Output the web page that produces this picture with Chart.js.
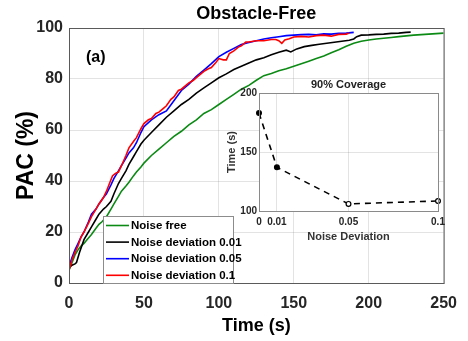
<!DOCTYPE html>
<html><head><meta charset="utf-8">
<script src="https://cdn.jsdelivr.net/npm/chart.js@4.4.0/dist/chart.umd.min.js"></script>
<style>
html,body{margin:0;padding:0;background:#fff;}
#wrap{position:relative;width:468px;height:341px;overflow:hidden;}
#main{position:absolute;left:0;top:0;width:468px;height:341px;}
#inset{position:absolute;left:222px;top:74px;width:230px;height:175px;}
</style></head><body>
<div id="wrap"><canvas id="main" width="468" height="341"></canvas><canvas id="inset" width="230" height="175"></canvas></div>
<script>
// ---------- data ----------
const chartTitle = 'Obstacle-Free';
const seriesLabels = ['Noise free', 'Noise deviation 0.01', 'Noise deviation 0.05', 'Noise deviation 0.1'];

const greenT = [0,2,4,6,8,10,12,15,18,20,22,25,28,30,33,35,38,40,43,45,48,50,55,60,65,70,75,80,85,90,95,100,105,110,115,120,125,130,135,140,145,150,155,160,165,170,175,180,185,190,195,200,205,210,215,220,225,230,235,240,245,250];
const greenV = [5,8,11,13,14.5,15.5,17,19,21.5,23,24,26,29,31,34,36,38,39.5,42,43.5,45.5,47,50,52.5,55,57.5,59.5,62,64,66.5,68,70,72,74,76,77.5,79.5,81.3,82.2,83.2,84,85,86,87,88,89,90.3,91.5,92.8,94,94.8,95.3,95.7,96,96.3,96.6,96.9,97.2,97.4,97.6,97.8,98];

const blackT = [0,2,4,5,7,10,13,15,18,20,23,25,28,30,33,35,38,40,43,45,48,50,55,60,65,70,75,80,85,90,95,100,105,110,115,120,125,130,135,140,145,148,152,157,162,167,172,177,182,187,190,192,195,200,205,210,215,220,225,228];
const blackV = [6,7,7.5,8,12,17,20,22,25,27,29,30,32,35,39,41,44,46.5,49.5,51.5,54.5,56,59,62,65,67.5,70,72,74.5,76.5,78.5,80.5,82,83.7,85,86.3,87.5,88.3,89.5,90.5,91.3,90.6,91.8,92.7,93.2,93.6,94,94.4,94.8,95.2,95.7,96.6,97.2,97.3,97.5,97.6,97.9,98,98.3,98.4];

const blueT = [0,2,4,6,8,10,13,15,18,20,23,25,28,30,33,35,38,40,43,45,48,50,55,60,65,70,75,80,85,90,95,100,105,110,115,120,125,130,135,140,145,150,155,160,165,170,175,180,185,190];
const blueV = [6.5,10,13,15.5,18,20,24,27,29,31,33.5,35,38.5,41,44,46,49,51,53,55,59,61.3,64,66,67.5,71.5,75.5,78,81,83.5,86,88.8,90.5,92,93.5,94.3,95,95.7,96.2,96.6,97,97.2,97.4,97.5,97.3,97.7,97.6,97.9,98,98.3];

const redT = [0,2,4,6,8,10,13,15,18,20,23,25,27,29,31,33,35,38,40,43,45,48,50,53,55,58,60,63,65,68,70,73,75,78,80,83,85,88,90,93,95,98,100,103,105,107,110,113,115,118,120,125,130,135,138,140,142,144,147,150,155,160,165,170,175,180,185,187];
const redV = [5,9,12,14.5,18,20,23.5,26,29,31,33.5,36,39,42,43,43.5,46,50,53,55.5,57,60.5,62.5,64,64.5,66.5,67,68.5,69.5,72,73,75.5,76,77.5,78.5,79.5,80.5,82,83,84,84.5,86.5,88,87.5,87.5,90,91,92.5,93,94.5,94.5,95,95,95.5,95.5,95,94,95.3,95.8,96.5,96.7,96.5,97,97.2,96.8,97.5,97.6,98];

const xTickStep = 50, yTickStep = 20;

const insetTitle = '90% Coverage';
const insetX = [0, 0.01, 0.05, 0.1];
const insetY = [183, 137, 106, 108.5];
const insetXTicks = [0, 0.01, 0.05, 0.1];
const insetXTickLabels = ['0', '0.01', '0.05', '0.1'];

// ---------- rendering ----------
const FONT = "'Liberation Sans', Arial, Helvetica, sans-serif";
const colors = ['#0b8a14', '#000000', '#0000ff', '#ff0000'];
const pairs = (t, v) => t.map((x, i) => ({x: x, y: v[i]}));
const allT = [greenT, blackT, blueT, redT];
const allV = [greenV, blackV, blueV, redV];

const mainDatasets = seriesLabels.map((lab, i) => ({
  label: lab,
  data: pairs(allT[i], allV[i]),
  borderColor: colors[i],
  backgroundColor: colors[i],
  borderWidth: 1.6,
  pointRadius: 0,
  tension: 0,
  fill: false,
  order: 3 - i
}));

const mainDecor = {
  id: 'mainDecor',
  afterDatasetsDraw(chart) {
    const {ctx, chartArea: ca} = chart;
    ctx.save();
    ctx.strokeStyle = '#5a5a5a';
    ctx.lineWidth = 1;
    ctx.strokeRect(ca.left + 0.5, ca.top + 0.5, ca.right - ca.left, ca.bottom - ca.top);
    // title centred over plot area
    ctx.fillStyle = '#000';
    ctx.font = 'bold 18px ' + FONT;
    ctx.textAlign = 'center';
    ctx.textBaseline = 'middle';
    ctx.fillText(chartTitle, (ca.left + ca.right) / 2, ca.top - 14);
    // legend
    const lx = ca.left + 34, ly = ca.bottom - 67, lw = 130, lh = 67;
    ctx.fillStyle = '#fff';
    ctx.fillRect(lx, ly, lw, lh);
    ctx.strokeStyle = '#8c8c8c';
    ctx.strokeRect(lx + 0.5, ly + 0.5, lw, lh);
    ctx.font = 'bold 11.5px ' + FONT;
    ctx.textBaseline = 'middle';
    ctx.textAlign = 'left';
    seriesLabels.forEach((lab, i) => {
      const yy = ly + 9.5 + i * 16.6;
      ctx.strokeStyle = colors[i];
      ctx.lineWidth = 1.6;
      ctx.beginPath();
      ctx.moveTo(lx + 3, yy);
      ctx.lineTo(lx + 26, yy);
      ctx.stroke();
      ctx.fillStyle = '#000';
      ctx.fillText(lab, lx + 28, yy + 0.5);
    });
    // panel label
    ctx.font = 'bold 16px ' + FONT;
    ctx.fillStyle = '#000';
    ctx.fillText('(a)', ca.left + 17, ca.top + 30);
    ctx.restore();
  }
};

new Chart(document.getElementById('main'), {
  type: 'line',
  data: {datasets: mainDatasets},
  plugins: [mainDecor],
  options: {
    responsive: false,
    animation: false,
    layout: {padding: {left: 0, right: 22, top: 28, bottom: 0}},
    plugins: {
      legend: {display: false},
      tooltip: {enabled: false},
      title: {display: false}
    },
    scales: {
      x: {
        type: 'linear', min: 0, max: 250,
        afterFit(s) { s.height = 58; },
        ticks: {stepSize: xTickStep, color: '#262626', padding: 11, maxRotation: 0,
          font: {family: FONT, size: 16, weight: 'bold'}},
        grid: {color: 'rgba(0,0,0,0.11)', drawTicks: false},
        border: {display: false},
        title: {display: true, text: 'Time (s)', color: '#000',
          font: {family: FONT, size: 18, weight: 'bold'}, padding: {top: 0, bottom: 4}}
      },
      y: {
        min: 0, max: 100,
        afterFit(s) { s.width = 69; },
        ticks: {stepSize: yTickStep, color: '#262626', padding: 6,
          font: {family: FONT, size: 16, weight: 'bold'}},
        grid: {color: 'rgba(0,0,0,0.11)', drawTicks: false},
        border: {display: false},
        title: {display: true, text: 'PAC (%)', color: '#000',
          font: {family: FONT, size: 23, weight: 'bold'}, padding: {top: 13, bottom: 0}}
      }
    }
  }
});

const insetDecor = {
  id: 'insetDecor',
  beforeDraw(chart) {
    const {ctx, chartArea: ca} = chart;
    ctx.save();
    ctx.fillStyle = '#fff';
    ctx.fillRect(ca.left, ca.top, ca.right - ca.left, ca.bottom - ca.top);
    ctx.restore();
  },
  afterDraw(chart) {
    const {ctx, chartArea: ca} = chart;
    ctx.save();
    ctx.strokeStyle = '#8a8a8a';
    ctx.lineWidth = 1;
    ctx.strokeRect(ca.left + 0.5, ca.top + 0.5, ca.right - ca.left, ca.bottom - ca.top);
    ctx.fillStyle = '#222';
    ctx.font = 'bold 11px ' + FONT;
    ctx.textAlign = 'center';
    ctx.textBaseline = 'middle';
    ctx.fillText(insetTitle, (ca.left + ca.right) / 2, ca.top - 8);
    ctx.restore();
  }
};

new Chart(document.getElementById('inset'), {
  type: 'line',
  data: {datasets: [{
    label: insetTitle,
    data: pairs(insetX, insetY),
    borderColor: '#000',
    borderWidth: 1.6,
    borderDash: [6, 5],
    pointRadius: 2.4,
    pointBorderWidth: 1.2,
    pointBorderColor: '#000',
    pointBackgroundColor: ['#000', '#000', '#fff', '#fff'],
    tension: 0,
    fill: false,
    clip: false
  }]},
  plugins: [insetDecor],
  options: {
    responsive: false,
    animation: false,
    layout: {padding: {left: 0, right: 14, top: 19, bottom: 0}},
    plugins: {
      legend: {display: false},
      tooltip: {enabled: false},
      title: {display: false}
    },
    scales: {
      x: {
        type: 'linear', min: 0, max: 0.1,
        afterFit(s) { s.height = 38; },
        afterBuildTicks(s) { s.ticks = insetXTicks.map(v => ({value: v})); },
        ticks: {autoSkip: false, maxRotation: 0, color: '#262626', padding: 5,
          font: {family: FONT, size: 10, weight: 'bold'},
          callback: (v) => insetXTickLabels[insetXTicks.indexOf(v)]},
        grid: {color: 'rgba(0,0,0,0.11)', drawTicks: false},
        border: {display: false},
        title: {display: true, text: 'Noise Deviation', color: '#333',
          font: {family: FONT, size: 11, weight: 'bold'}, padding: {top: 0, bottom: 5.7}}
      },
      y: {
        min: 100, max: 200,
        afterFit(s) { s.width = 37; },
        ticks: {stepSize: 50, color: '#262626', padding: 2,
          font: {family: FONT, size: 10, weight: 'bold'}},
        grid: {color: 'rgba(0,0,0,0.11)', drawTicks: false},
        border: {display: false},
        title: {display: true, text: 'Time (s)', color: '#333',
          font: {family: FONT, size: 11, weight: 'bold'}, padding: {top: 3, bottom: 0}}
      }
    }
  }
});
</script>
</body></html>
